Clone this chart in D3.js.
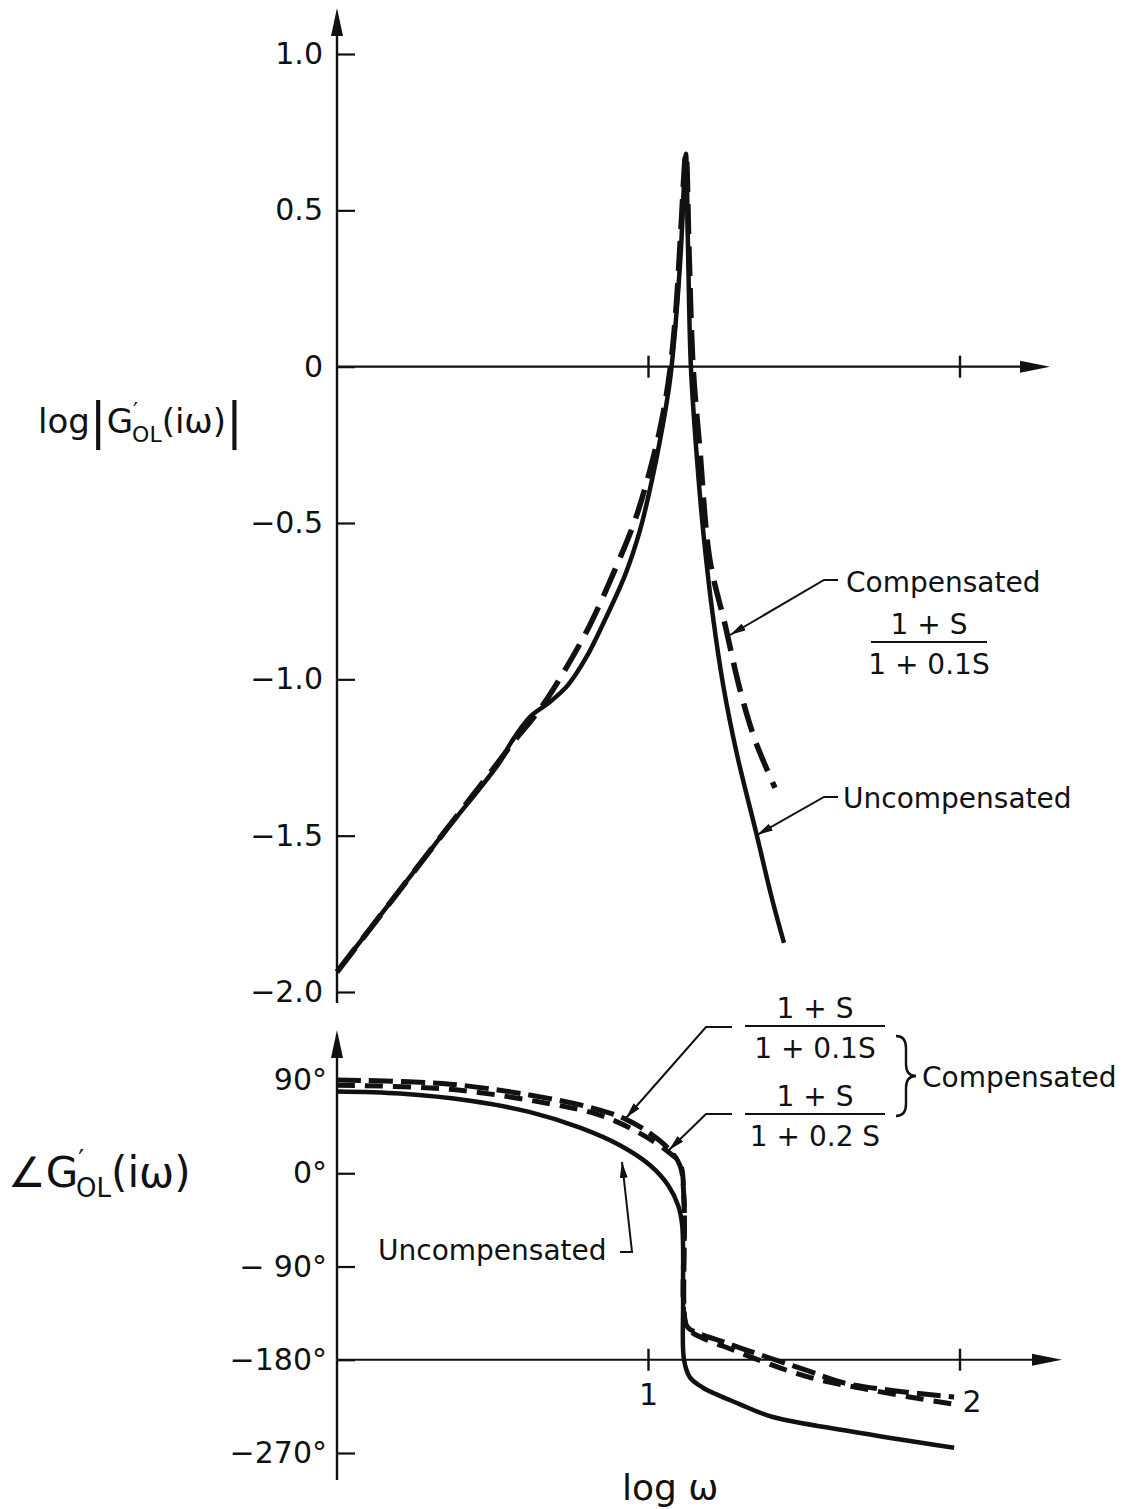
<!DOCTYPE html>
<html>
<head>
<meta charset="utf-8">
<script src="https://cdn.jsdelivr.net/npm/d3@7"></script>
<style>
  body { margin: 0; background: #fff; }
  svg { display: block; }
  text { font-family: "DejaVu Sans", "Liberation Sans", sans-serif; fill: #111; }
</style>
</head>
<body>
<svg id="chart" width="1138" height="1509"></svg>
<script>
// ---- Magnitude: log|G'OL(iw)| against log w ----
const magUncompW = [0, 0.318, 0.523, 0.560, 0.620, 0.680, 0.740, 0.800, 0.860, 0.925, 0.973, 1.011, 1.043, 1.069, 1.088, 1.104, 1.120, 1.127, 1.136, 1.156, 1.178, 1.207, 1.240, 1.284, 1.348, 1.396, 1.435];
const magUncomp  = [-1.936, -1.523, -1.264, -1.200, -1.120, -1.075, -1.020, -0.930, -0.810, -0.666, -0.522, -0.363, -0.203, -0.043, 0.149, 0.373, 0.681, 0.373, 0.002, -0.300, -0.550, -0.800, -1.020, -1.240, -1.500, -1.700, -1.843];

const magCompW = [0, 0.318, 0.523, 0.571, 0.620, 0.668, 0.732, 0.812, 0.892, 0.957, 1.005, 1.043, 1.069, 1.088, 1.104, 1.120, 1.130, 1.143, 1.165, 1.197, 1.246, 1.294, 1.342, 1.406];
const magComp  = [-1.936, -1.523, -1.258, -1.194, -1.136, -1.072, -0.970, -0.826, -0.650, -0.490, -0.330, -0.170, -0.011, 0.181, 0.437, 0.681, 0.373, 0.002, -0.266, -0.618, -0.826, -1.034, -1.194, -1.347];

// ---- Phase: angle of G'OL(iw) in degrees ----
const phUncompW = [0, 0.202, 0.427, 0.620, 0.780, 0.908, 1.005, 1.063, 1.095, 1.108, 1.111, 1.114, 1.133, 1.175, 1.294, 1.396, 1.647, 1.981];
const phUncomp  = [79, 77, 70, 59, 44, 27, 7.7, -11.5, -31, -50, -122, -180, -197, -207, -223, -235, -249, -265];

// compensator (1+S)/(1+0.1S)
const phComp1W = [0, 0.363, 0.684, 0.844, 0.928, 1.005, 1.063, 1.101, 1.114, 1.117, 1.127, 1.262, 1.506, 1.637, 1.981];
const phComp1  = [90, 86, 72, 61, 52, 38.5, 24, 7.7, -26, -141, -149, -165, -190, -203, -216];

// compensator (1+S)/(1+0.2S)
const phComp2W = [0, 0.363, 0.684, 0.844, 0.973, 1.066, 1.101, 1.114, 1.117, 1.133, 1.284, 1.506, 1.727, 1.981];
const phComp2  = [85, 81, 67, 56, 38.5, 20, 9.6, -26, -143, -152, -172, -196, -210, -223];

// ---- Ticks ----
const magTicks = [1, 0.5, 0, -0.5, -1, -1.5, -2];
const magTickLabels = ["1.0", "0.5", "0", "\u22120.5", "\u22121.0", "\u22121.5", "\u22122.0"];
const phTicks = [90, 0, -90, -180, -270];
const phTickLabels = ["90\u00b0", "0\u00b0", "\u2212 90\u00b0", "\u2212180\u00b0", "\u2212270\u00b0"];
const wTicks = [1, 2];
const wTickLabels = ["1", "2"];

const svg = d3.select("#chart");
const ink = "#111";

const x = d3.scaleLinear().domain([0, 2]).range([337, 960]);
const yMag = d3.scaleLinear().domain([-2, 1]).range([992, 54]);
const yPh = d3.scaleLinear().domain([-270, 90]).range([1453, 1080]);

const zip = (a, b) => a.map((v, i) => [v, b[i]]);

// arrowhead marker for the leader lines
svg.append("defs").append("marker")
  .attr("id", "lead")
  .attr("viewBox", "0 0 16 8")
  .attr("refX", 16).attr("refY", 4)
  .attr("markerWidth", 16).attr("markerHeight", 8)
  .attr("markerUnits", "userSpaceOnUse")
  .attr("orient", "auto")
  .append("path").attr("d", "M0,0 L16,4 L0,8 Z").attr("fill", ink);

// ---------- axes ----------
function yAxisPanel(scale, ticks, labels, top, bottom, pad, fs) {
  const ax = d3.axisLeft(scale).tickValues(ticks)
    .tickFormat((d, i) => labels[i])
    .tickSizeInner(-18).tickSizeOuter(0).tickPadding(pad);
  const g = svg.append("g").attr("transform", `translate(${x(0)},0)`).call(ax);
  g.select(".domain").remove();
  g.selectAll(".tick line").attr("stroke", ink).attr("stroke-width", 2.2);
  g.selectAll(".tick text").attr("font-size", fs).attr("fill", ink)
    .style("font-family", '"DejaVu Sans", sans-serif');
  // axis line with arrow at the top
  svg.append("line").attr("x1", x(0)).attr("x2", x(0)).attr("y1", top + 20).attr("y2", bottom)
    .attr("stroke", ink).attr("stroke-width", 2.4);
  svg.append("path")
    .attr("d", `M${x(0)},${top} L${x(0) - 6},${top + 28} L${x(0) + 6},${top + 28} Z`)
    .attr("fill", ink);
}

function xAxisPanel(yv, right, tickLen) {
  svg.append("line").attr("x1", x(0)).attr("x2", right - 20).attr("y1", yv).attr("y2", yv)
    .attr("stroke", ink).attr("stroke-width", 2.2);
  svg.append("path")
    .attr("d", `M${right},${yv} L${right - 30},${yv - 6} L${right - 30},${yv + 6} Z`)
    .attr("fill", ink);
  svg.selectAll(null).data(wTicks).enter().append("line")
    .attr("x1", d => x(d)).attr("x2", d => x(d))
    .attr("y1", yv - tickLen).attr("y2", yv + tickLen)
    .attr("stroke", ink).attr("stroke-width", 2.4);
}

yAxisPanel(yMag, magTicks, magTickLabels, 8, 1003, 14, 30);
xAxisPanel(yMag(0), 1050, 11);
yAxisPanel(yPh, phTicks, phTickLabels, 1030, 1480, 10, 30);
xAxisPanel(yPh(-180), 1062, 11);

// x tick labels of the phase panel
svg.append("text").attr("x", x(wTicks[0])).attr("y", yPh(-180) + 45)
  .attr("text-anchor", "middle").attr("font-size", 30).text(wTickLabels[0]);
svg.append("text").attr("x", x(wTicks[1]) + 12).attr("y", yPh(-180) + 52)
  .attr("text-anchor", "middle").attr("font-size", 30).text(wTickLabels[1]);

// ---------- curves ----------
const line = sy => d3.line().x(d => x(d[0])).y(d => sy(d[1])).curve(d3.curveCatmullRom.alpha(0.5));

svg.append("path").datum(zip(magUncompW, magUncomp)).attr("d", line(yMag))
  .attr("fill", "none").attr("stroke", ink).attr("stroke-width", 4.5).attr("stroke-linejoin", "round");
svg.append("path").datum(zip(magCompW, magComp)).attr("d", line(yMag))
  .attr("fill", "none").attr("stroke", ink).attr("stroke-width", 5.5)
  .attr("stroke-dasharray", "30,12");

svg.append("path").datum(zip(phUncompW, phUncomp)).attr("d", line(yPh))
  .attr("fill", "none").attr("stroke", ink).attr("stroke-width", 4.5).attr("stroke-linejoin", "round");
svg.append("path").datum(zip(phComp1W, phComp1)).attr("d", line(yPh))
  .attr("fill", "none").attr("stroke", ink).attr("stroke-width", 5)
  .attr("stroke-dasharray", "24,8");
svg.append("path").datum(zip(phComp2W, phComp2)).attr("d", line(yPh))
  .attr("fill", "none").attr("stroke", ink).attr("stroke-width", 5)
  .attr("stroke-dasharray", "18,10");

// ---------- annotations ----------
function leader(pts) {
  svg.append("path").attr("d", d3.line()(pts))
    .attr("fill", "none").attr("stroke", ink).attr("stroke-width", 2)
    .attr("marker-end", "url(#lead)");
}
function label(tx, ty, str, fs, anchor) {
  return svg.append("text").attr("x", tx).attr("y", ty).attr("font-size", fs)
    .attr("text-anchor", anchor || "start").text(str);
}
function fraction(cx, ly, num, den, w) {
  label(cx, ly - 8, num, 28, "middle");
  svg.append("line").attr("x1", cx - w / 2).attr("x2", cx + w / 2).attr("y1", ly).attr("y2", ly)
    .attr("stroke", ink).attr("stroke-width", 2.2);
  label(cx, ly + 32, den, 28, "middle");
}

// magnitude panel
label(846, 592, "Compensated", 28);
fraction(929, 642, "1 + S", "1 + 0.1S", 116);
leader([[838, 580], [824, 580], [730, 635]]);
label(843, 808, "Uncompensated", 28);
leader([[838, 797], [824, 797], [757, 835]]);

// phase panel
fraction(815, 1026, "1 + S", "1 + 0.1S", 140);
fraction(815, 1114, "1 + S", "1 + 0.2 S", 140);
leader([[732, 1027], [706, 1027], [626, 1118]]);
leader([[732, 1114], [706, 1114], [669, 1150]]);
svg.append("path")
  .attr("d", "M896,1036 q10,0 10,12 v16 q0,12 10,12 q-10,0 -10,12 v16 q0,12 -10,12")
  .attr("fill", "none").attr("stroke", ink).attr("stroke-width", 2.4);
label(922, 1087, "Compensated", 28);
label(378, 1260, "Uncompensated", 28);
leader([[620, 1252], [632, 1252], [622, 1162]]);

// axis titles
const t1 = svg.append("text").attr("x", 38).attr("y", 433).attr("font-size", 34);
t1.append("tspan").text("log");
t1.append("tspan").attr("font-size", 50).attr("dy", 5).text("|");
t1.append("tspan").attr("dy", -5).text("G");
t1.append("tspan").attr("font-size", 22).attr("dy", -15).text("\u2032");
t1.append("tspan").attr("font-size", 22).attr("dx", -6).attr("dy", 24).text("OL");
t1.append("tspan").attr("dy", -9).text("(i\u03c9)");
t1.append("tspan").attr("font-size", 50).attr("dy", 5).text("|");

const t2 = svg.append("text").attr("x", 8).attr("y", 1187).attr("font-size", 42);
t2.append("tspan").text("\u2220G");
t2.append("tspan").attr("font-size", 26).attr("dy", -18).text("\u2032");
t2.append("tspan").attr("font-size", 26).attr("dx", -8).attr("dy", 28).text("OL");
t2.append("tspan").attr("dy", -10).text("(i\u03c9)");

label(622, 1500, "log  \u03c9", 36);
</script>
</body>
</html>
